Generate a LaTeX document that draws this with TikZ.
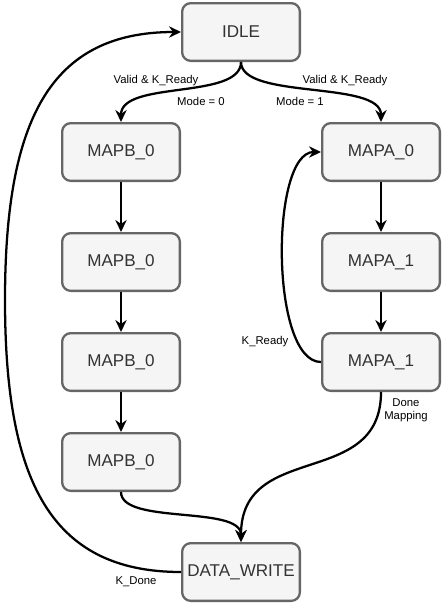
\documentclass[tikz,border=0pt]{standalone}
\usepackage{fontspec}
\setmainfont{Liberation Sans}
\usetikzlibrary{arrows.meta}
\definecolor{boxfill}{HTML}{F5F5F5}
\definecolor{boxline}{HTML}{666666}
\definecolor{boxtext}{HTML}{333333}
\begin{document}
\begin{tikzpicture}[x=0.75pt,y=-0.75pt,
  state/.style={draw=boxline,fill=boxfill,text=boxtext,line width=1.7pt,rounded corners=6.5pt,
    minimum width=88.3pt,minimum height=43.3pt,font=\fontsize{12.8}{14}\selectfont},
  trans/.style={line width=1.7pt,-{Stealth[length=9pt,width=8.5pt,inset=3pt]}},
  lbl/.style={font=\fontsize{8.5}{10}\selectfont,inner sep=0pt,align=center}]

\useasboundingbox (0,0) rectangle (444,603);

\node[state] (idle) at (241,32) {IDLE};

\node[state] (mb1) at (121,152) {MAPB\_0};
\node[state] (mb2) at (121,262) {MAPB\_0};
\node[state] (mb3) at (121,362) {MAPB\_0};
\node[state] (mb4) at (121,462) {MAPB\_0};

\node[state] (ma0) at (381,152) {MAPA\_0};
\node[state] (ma1) at (381,262) {MAPA\_1};
\node[state] (ma2) at (381,362) {MAPA\_1};

\node[state] (dw) at (241,572) {DATA\_WRITE};

\draw[trans] (idle.south) .. controls (241,100) and (121,80) .. (mb1.north);
\draw[trans] (idle.south) .. controls (241,100) and (381,80) .. (ma0.north);
\node[lbl] (vk0) at (156,81) {Valid \& K\_Ready};
\node[lbl] (m0) at (201,101) {Mode = 0};
\node[lbl] (vk1) at (345,81) {Valid \& K\_Ready};
\node[lbl] (m1) at (300,101) {Mode = 1};

\draw[trans] (mb1) -- (mb2);
\draw[trans] (mb2) -- (mb3);
\draw[trans] (mb3) -- (mb4);

\draw[trans] (ma0) -- (ma1);
\draw[trans] (ma1) -- (ma2);

\draw[trans] (ma2.west) .. controls (270,362) and (270,152) .. (ma0.west);
\node[lbl] (kr) at (265,342) {K\_Ready};

\draw[trans] (ma2.south) .. controls (381,490) and (241,440) .. (dw.north);
\node[lbl] (dm) at (406,410) {Done\\Mapping};

\draw[trans] (mb4.south) .. controls (121,525) and (241,505) .. (dw.north);

\draw[trans] (dw.west) .. controls (50,572) and (5,480) .. (5,300)
  .. controls (5,120) and (50,32) .. (idle.west);
\node[lbl] (kd) at (136,582) {K\_Done};

\end{tikzpicture}
\end{document}
